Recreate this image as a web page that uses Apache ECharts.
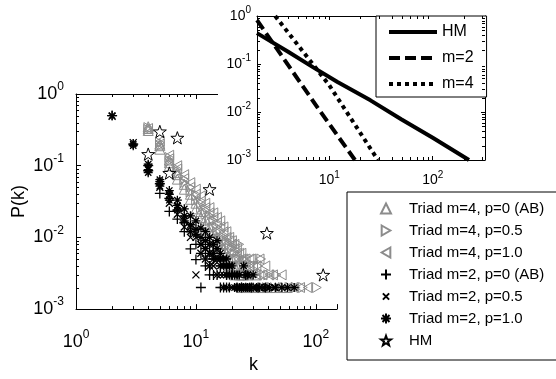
<!DOCTYPE html>
<html>
<head>
<meta charset="utf-8">
<script src="https://cdn.jsdelivr.net/npm/echarts/dist/echarts.min.js"></script>
<style>
  html, body { margin: 0; padding: 0; background: #fff; }
  #chart { width: 556px; height: 379px; }
</style>
</head>
<body>
<div id="chart"></div>
<script>
const FONT = "'Liberation Sans', Arial, sans-serif";
const GRAY = '#8c8c8c';

// axis ranges
const mainK = [1, 150];
const mainP = [0.001, 1];
const insetK = [2, 320];
const insetP = [0.001, 1];

// log minor tick values
const minorK = [2, 3, 4, 5, 6, 7, 8, 9, 20, 30, 40, 50, 60, 70, 80, 90, 200, 300];
const minorP = [0.002, 0.003, 0.004, 0.005, 0.006, 0.007, 0.008, 0.009,
  0.02, 0.03, 0.04, 0.05, 0.06, 0.07, 0.08, 0.09,
  0.2, 0.3, 0.4, 0.5, 0.6, 0.7, 0.8, 0.9];

// degree distributions [k, P(k)], several runs overlaid
const triadM4P0 = [[4,0.33],[4,0.35],[4,0.31],[5,0.19],[5,0.17],[5,0.2],[6,0.11],[6,0.1],[6,0.12],
  [7,0.075],[7,0.065],[7,0.08],[8,0.055],[8,0.047],[9,0.04],[9,0.034],[10,0.03],[10,0.025],
  [11,0.023],[11,0.019],[12,0.018],[12,0.015],[13,0.014],[13,0.012],[14,0.012],[14,0.01],
  [15,0.01],[15,0.008],[16,0.008],[16,0.007],[17,0.007],[17,0.006],[18,0.006],[18,0.005],
  [19,0.005],[19,0.004],[20,0.005],[20,0.004],[21,0.004],[21,0.003],[22,0.004],[23,0.003],
  [24,0.003],[24,0.002],[25,0.003],[26,0.002],[27,0.003],[28,0.002],[30,0.002],[32,0.003],
  [34,0.002],[36,0.002],[39,0.002],[42,0.002],[46,0.002],[51,0.002],[57,0.002]];
const triadM4P05 = [[4,0.34],[4,0.32],[5,0.21],[5,0.19],[6,0.13],[6,0.115],[7,0.09],[7,0.08],
  [8,0.065],[8,0.058],[9,0.05],[9,0.043],[10,0.038],[10,0.033],[11,0.03],[11,0.026],[12,0.024],[12,0.021],
  [13,0.02],[13,0.017],[14,0.017],[14,0.014],[15,0.014],[15,0.012],[16,0.012],[16,0.01],[17,0.01],[17,0.009],
  [18,0.009],[18,0.008],[19,0.008],[19,0.007],[20,0.007],[20,0.006],[21,0.006],[21,0.005],[22,0.005],
  [23,0.008],[23,0.005],[24,0.004],[25,0.005],[25,0.004],[26,0.004],[27,0.003],[28,0.004],[29,0.003],
  [31,0.003],[33,0.004],[35,0.005],[37,0.003],[40,0.003],[43,0.002],[47,0.003],[53,0.002],[60,0.002],
  [68,0.002],[78,0.002],[102,0.002]];
const triadM4P1 = [[4,0.33],[5,0.22],[5,0.2],[6,0.14],[6,0.125],[7,0.1],[7,0.09],[8,0.075],[8,0.066],
  [9,0.058],[9,0.05],[10,0.047],[10,0.04],[11,0.038],[11,0.032],[12,0.03],[12,0.026],[13,0.026],[13,0.022],
  [14,0.022],[14,0.019],[15,0.019],[15,0.016],[16,0.017],[16,0.014],[17,0.014],[17,0.012],[18,0.012],[18,0.01],
  [19,0.01],[19,0.009],[20,0.009],[20,0.008],[21,0.008],[21,0.007],[22,0.007],[22,0.006],[23,0.006],
  [24,0.006],[24,0.005],[25,0.005],[26,0.005],[26,0.004],[28,0.005],[28,0.004],[29,0.005],[30,0.004],
  [32,0.004],[32,0.003],[34,0.005],[36,0.003],[38,0.004],[41,0.003],[44,0.003],[48,0.002],[52,0.003],
  [58,0.002],[65,0.002],[74,0.002],[85,0.002]];
const triadM2P0 = [[2,0.5],[3,0.2],[4,0.1],[4,0.085],[5,0.056],[5,0.041],[6,0.035],[6,0.023],[7,0.024],[7,0.018],
  [8,0.016],[8,0.012],[9,0.012],[9,0.0069],[10,0.008],[10,0.0049],[11,0.006],[11,0.002],[12,0.005],[12,0.004],
  [13,0.004],[13,0.003],[14,0.003],[14,0.005],[15,0.003],[16,0.004],[16,0.002],[17,0.002],[18,0.003],[18,0.002],
  [19,0.002],[20,0.003],[22,0.002],[24,0.002],[26,0.003],[29,0.002],[33,0.002],[38,0.002]];
const triadM2P05 = [[2,0.49],[3,0.21],[4,0.095],[4,0.09],[5,0.058],[5,0.05],[6,0.038],[6,0.03],[7,0.027],[7,0.021],
  [8,0.018],[8,0.014],[9,0.014],[9,0.01],[10,0.01],[10,0.003],[11,0.008],[11,0.006],[12,0.007],[12,0.005],
  [13,0.006],[13,0.004],[14,0.004],[15,0.005],[15,0.003],[16,0.003],[17,0.003],[17,0.002],[18,0.002],[19,0.004],
  [20,0.002],[21,0.003],[23,0.002],[25,0.002],[27,0.003],[30,0.002],[34,0.002],[39,0.002],[45,0.002]];
const triadM2P1 = [[2,0.5],[3,0.2],[3,0.19],[4,0.105],[4,0.088],[4,0.08],[5,0.064],[5,0.06],[5,0.052],
  [6,0.045],[6,0.04],[6,0.033],[7,0.033],[7,0.028],[7,0.024],[8,0.025],[8,0.02],[8,0.017],[9,0.02],[9,0.015],[9,0.012],
  [10,0.017],[10,0.013],[10,0.011],[11,0.0135],[11,0.01],[11,0.008],[12,0.012],[12,0.009],[12,0.007],
  [13,0.01],[13,0.008],[13,0.006],[14,0.008],[14,0.006],[14,0.005],[15,0.009],[15,0.007],[15,0.005],
  [16,0.006],[16,0.005],[16,0.004],[17,0.005],[17,0.004],[18,0.005],[18,0.004],[18,0.003],[19,0.004],[19,0.003],
  [20,0.004],[20,0.003],[21,0.003],[21,0.002],[22,0.003],[22,0.002],[23,0.003],[23,0.002],[24,0.002],
  [25,0.004],[25,0.002],[26,0.003],[26,0.002],[27,0.003],[27,0.002],[28,0.002],[30,0.003],[30,0.002],
  [32,0.002],[34,0.002],[37,0.002],[41,0.002],[46,0.002],[52,0.002],[58,0.002],[66,0.002]];
const hmPoints = [[4,0.145],[5,0.3],[6,0.079],[7,0.245],[13,0.047],[39,0.0115],[115,0.003]];

// inset curves [k, P(k)]
const insetHM = [[2,0.44],[4,0.18],[7,0.085],[12,0.042],[25,0.0175],[50,0.007],[100,0.0029],[224,0.001]];
const insetM2 = [[2,0.82],[8,0.011],[17.7,0.001]];
const insetM4 = [[3,1.0],[10,0.036],[29.5,0.001]];

const mainNames = ['Triad m=4, p=0 (AB)', 'Triad m=4, p=0.5', 'Triad m=4, p=1.0',
  'Triad m=2, p=0 (AB)', 'Triad m=2, p=0.5', 'Triad m=2, p=1.0', 'HM'];
const insetNames = ['HM ', 'm=2', 'm=4'];

const TRI_RIGHT = 'path://M0,0L8.66,5L0,10Z';
const TRI_LEFT = 'path://M8.66,0L0,5L8.66,10Z';
const PLUS = 'path://M0,5L10,5M5,0L5,10';
const CROSS = 'path://M0,0L10,10M10,0L0,10';
const CROSS_SMALL = 'path://M-3,-3L-3,-3M0,0L10,10M10,0L0,10M13,13L13,13';
const ASTER = 'path://M5,0L5,10M0,5L10,5M1.5,1.5L8.5,8.5M8.5,1.5L1.5,8.5';
const STAR = 'path://M0,-10L2.35,-3.24L9.51,-3.09L3.8,1.24L5.88,8.09L0,4L-5.88,8.09L-3.8,1.24L-9.51,-3.09L-2.35,-3.24Z';

function powLabel(v) {
  const l = Math.log10(v);
  const e = Math.round(l);
  if (Math.abs(l - e) > 1e-6) return '';
  return '{b|10}{e|' + e + '}';
}

function richFor(size) {
  return {
    b: { fontSize: size, fontFamily: FONT, color: '#000' },
    e: { fontSize: Math.round(size * 0.68), fontFamily: FONT, color: '#000', padding: [0, 0, Math.round(size * 0.75), 0] }
  };
}

function logAxis(grid, pos, range, opts) {
  return Object.assign({
    type: 'log', logBase: 10, gridIndex: grid, position: pos,
    min: range[0], max: range[1],
    z: grid === 1 ? 3 : 0,
    splitLine: { show: false },
    axisLine: { lineStyle: { color: '#000', width: 1 } },
    axisTick: { inside: true, length: 5, lineStyle: { color: '#000' } },
    axisLabel: { show: false }
  }, opts);
}

function line(x1, y1, x2, y2) {
  return { type: 'line', shape: { x1, y1, x2, y2 }, style: { stroke: '#000', lineWidth: 1 } };
}

function minorTickSeries(xi, yi, kRange, pRange, top, right, z) {
  const data = [];
  minorK.filter(k => k > kRange[0] && k < kRange[1]).forEach(k => data.push([k, pRange[0], 0]));
  minorP.filter(p => p > pRange[0] && p < pRange[1]).forEach(p => data.push([kRange[0], p, 1]));
  return {
    type: 'custom', xAxisIndex: xi, yAxisIndex: yi, silent: true, clip: false, z,
    encode: { x: 0, y: 1 },
    data,
    renderItem(params, api) {
      const cs = params.coordSys;
      const pt = api.coord([api.value(0), api.value(1)]);
      const L = 3;
      const out = [];
      if (api.value(2) === 0) {
        const x = Math.round(pt[0]) + 0.5;
        out.push(line(x, cs.y + cs.height, x, cs.y + cs.height - L));
        if (top) out.push(line(x, cs.y, x, cs.y + L));
      } else {
        const y = Math.round(pt[1]) + 0.5;
        out.push(line(cs.x, y, cs.x + L, y));
        if (right) out.push(line(cs.x + cs.width, y, cs.x + cs.width - L, y));
      }
      return { type: 'group', children: out };
    }
  };
}

function scatter(name, data, symbol, size, color, width) {
  return {
    type: 'scatter', name, data, symbol, symbolSize: size,
    symbolKeepAspect: true,
    xAxisIndex: 0, yAxisIndex: 0,
    itemStyle: { color: 'rgba(0,0,0,0)', borderColor: color, borderWidth: width || 1, opacity: 1 },
    emphasis: { disabled: true }
  };
}

function curve(name, data, type) {
  return {
    type: 'line', name, data, symbol: 'none', xAxisIndex: 2, yAxisIndex: 1,
    lineStyle: { color: '#000', width: 4, type },
    itemStyle: { color: '#000' },
    emphasis: { disabled: true }
  };
}

const chart = echarts.init(document.getElementById('chart'), null, { renderer: 'canvas' });

chart.setOption({
  animation: false,
  backgroundColor: '#fff',
  textStyle: { fontFamily: FONT },
  grid: [
    { left: 76, top: 94, width: 261, height: 226 },
    { left: 257, top: 16, width: 228, height: 144, show: true, backgroundColor: '#fff', borderWidth: 0, z: 1 }
  ],
  xAxis: [
    logAxis(0, 'bottom', mainK, {
      name: 'k', nameLocation: 'middle', nameGap: 42,
      nameTextStyle: { fontSize: 18, fontFamily: FONT, color: '#000', padding: [0, 0, 0, 94] },
      axisLabel: { show: true, margin: 20, formatter: powLabel, rich: richFor(18) }
    }),
    logAxis(0, 'top', mainK, {}),
    logAxis(1, 'bottom', insetK, {
      axisTick: { inside: true, length: 4, lineStyle: { color: '#000' } },
      axisLabel: { show: true, margin: 10, formatter: powLabel, rich: richFor(14) }
    }),
    logAxis(1, 'top', insetK, { axisTick: { inside: true, length: 4, lineStyle: { color: '#000' } } })
  ],
  yAxis: [
    logAxis(0, 'left', mainP, {
      name: 'P(k)', nameLocation: 'middle', nameRotate: 90, nameGap: 48,
      nameTextStyle: { fontSize: 18, fontFamily: FONT, color: '#000' },
      axisLabel: { show: true, margin: 12, formatter: powLabel, rich: richFor(18) }
    }),
    logAxis(1, 'left', insetP, {
      axisTick: { inside: true, length: 4, lineStyle: { color: '#000' } },
      axisLabel: { show: true, margin: 6, formatter: powLabel, rich: richFor(14) }
    }),
    logAxis(1, 'right', insetP, { axisTick: { inside: true, length: 4, lineStyle: { color: '#000' } } })
  ],
  legend: [
    {
      orient: 'vertical', left: 347, top: 192,
      padding: [9, 30, 12, 33], itemWidth: 10, itemHeight: 10, itemGap: 7,
      borderColor: '#000', borderWidth: 1, backgroundColor: '#fff',
      selectedMode: false,
      textStyle: { fontSize: 15, fontFamily: FONT, color: '#000', padding: [0, 0, 0, 13] },
      data: [
        { name: mainNames[0] },
        { name: mainNames[1], icon: TRI_RIGHT },
        { name: mainNames[2], icon: TRI_LEFT },
        { name: mainNames[3] },
        { name: mainNames[4], icon: CROSS_SMALL },
        { name: mainNames[5] },
        { name: mainNames[6] }
      ]
    },
    {
      orient: 'vertical', left: 376, top: 16,
      padding: [8, 13, 5, 11], itemWidth: 48, itemHeight: 14, itemGap: 10,
      borderColor: '#000', borderWidth: 1, backgroundColor: '#fff',
      selectedMode: false,
      lineStyle: { width: 4 },
      itemStyle: { opacity: 0 },
      textStyle: { fontSize: 16, fontFamily: FONT, color: '#000' },
      data: insetNames
    }
  ],
  graphic: [
    // the inset's white margin hides the end of the main box's top edge
    { type: 'rect', left: 218, top: 88, z: 100, shape: { width: 39, height: 12 }, style: { fill: '#fff' } }
  ],
  series: [
    scatter(mainNames[0], triadM4P0, 'triangle', 10, GRAY),
    scatter(mainNames[1], triadM4P05, TRI_RIGHT, 10, GRAY),
    scatter(mainNames[2], triadM4P1, TRI_LEFT, 10, GRAY),
    scatter(mainNames[3], triadM2P0, PLUS, 10, '#000', 1.3),
    scatter(mainNames[4], triadM2P05, CROSS, 7, '#000', 1.3),
    scatter(mainNames[5], triadM2P1, ASTER, 9, '#000', 1.3),
    scatter(mainNames[6], hmPoints, STAR, 13, '#000'),
    curve(insetNames[0], insetHM, 'solid'),
    curve(insetNames[1], insetM2, [11, 5]),
    curve(insetNames[2], insetM4, [4, 4]),
    minorTickSeries(0, 0, mainK, mainP, true, false, 0),
    minorTickSeries(2, 1, insetK, insetP, true, true, 5)
  ]
});
</script>
</body>
</html>
